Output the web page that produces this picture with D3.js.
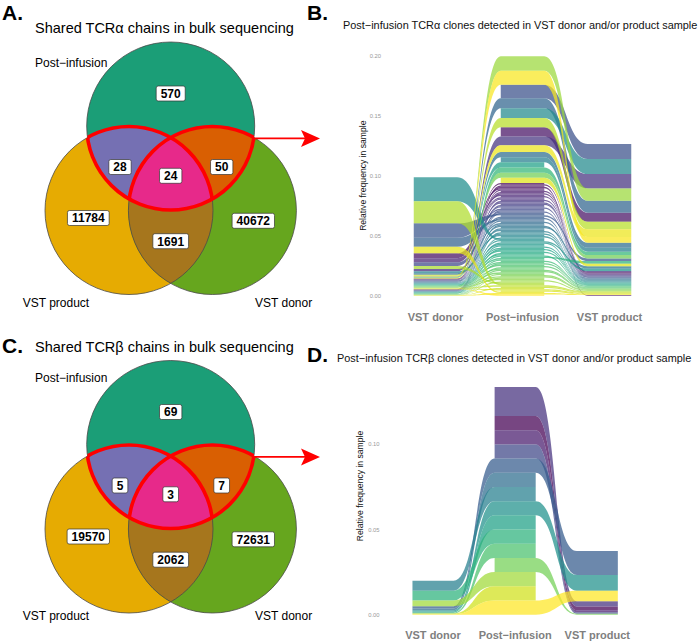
<!DOCTYPE html>
<html><head><meta charset="utf-8">
<script src="https://cdn.jsdelivr.net/npm/d3@7"></script>
<style>body{margin:0;background:#fff}svg{display:block}</style>
</head><body>
<svg id="fig" width="700" height="642"></svg>
<script>
// ================= DATA =================
const vennSetLabels = ["Post−infusion", "VST product", "VST donor"];
const vennRegions = ["post", "post_product", "post_product_donor", "post_donor", "product", "product_donor", "donor"];
const alphaCounts = [570, 28, 24, 50, 11784, 1691, 40672];
const betaCounts  = [69, 5, 3, 7, 19570, 2062, 72631];

const axisLabels = ["VST donor", "Post−infusion", "VST product"];
const alphaYTicks = [0, 0.05, 0.10, 0.15, 0.20];
const betaYTicks  = [0, 0.05, 0.10];

// TCRα clones, listed in clone factor-level order (relative frequency per sample)
const alphaDonor = [
  0.0003,0,0.0002,0.0003,0.0040,0,0.0002,0,0.0003,0.0002,
  0.0035,0,0.0020,0.0003,0,0.0003,0.0002,0.0003,0,0.0002,
  0.0003,0,0.0030,0.0002,0.0003,0,0.0002,0.0120,0,0.0003,
  0.0002,0.0075,0.0003,0.0005,0,0.0013,0.0003,0.0002,0.0003,0,
  0.0002,0.0003,0,0,0.0002,0.0003,0.0015,0,0,0.0002,
  0.0200,0.0003,0,0.0002,0.0003,0.0002,0,0.0004,0.0003,0.0002,
  0.0003,0,0.0002,0.0003,0.0002,0,0.0003,0.0002,0.0002,0,
  0.0003,0.0002,0.0003,0,0.0002,0.0003,0.0002,0,0.0003,0.0003,
  0.0002,0,0.0003,0.0002,0.0003,0,0.0004,0.0002,0.0025,0.0185,
  0.0008,0.0003,0,0.0002,0.0003,0,0,0.0055,0.0004,0.0002,
  0.0006,0.0003
];
const alphaPost = [
  0.00108,0.00108,0.00108,0.00108,0.00108,0.0076,0.00108,0.00108,0.00108,0.00108,
  0.00108,0.00108,0.00108,0.00108,0.00108,0.0074,0.00108,0.00108,0.00108,0.00108,
  0.00108,0.00108,0.00108,0.00108,0.00108,0.0112,0.00108,0.00108,0.00108,0.00108,
  0.00108,0.00108,0.00108,0.0084,0.00108,0.00108,0.0043,0.00108,0.00108,0.00108,
  0.00108,0.00108,0.00108,0.0043,0.00108,0.00108,0.00108,0.00108,0.0080,0.00108,
  0.00108,0.00108,0.00108,0.00108,0.00108,0.00108,0.00108,0.0043,0.00108,0.00108,
  0.00108,0.00108,0.00108,0.00108,0.00108,0.00108,0.00108,0.0043,0.00108,0.00108,
  0.00108,0.00108,0.00108,0.00108,0.00108,0.00108,0.00108,0.00108,0.00108,0.0043,
  0.00108,0.00108,0.00108,0.00108,0.00108,0.00108,0.0120,0.00108,0.00108,0.00108,
  0.0078,0.00108,0.00108,0.00108,0.00108,0.00108,0.0043,0.00108,0.0056,0.00108,
  0.0118,0.00108
];
const alphaProduct = [
  0,0.0006,0,0.0005,0,0.0075,0,0.0006,0,0.0006,
  0,0.0006,0,0,0.0008,0.0120,0,0.0006,0.0006,0,
  0,0.0006,0,0,0.0006,0.0125,0,0,0.0022,0,
  0.0006,0,0,0.0100,0.0006,0,0.0042,0,0.0006,0.0020,
  0,0,0.0006,0.0033,0,0.0006,0,0.0006,0.0125,0,
  0,0,0.0020,0.0006,0,0,0.0006,0,0,0.0006,
  0,0.0006,0,0,0.0006,0.0022,0,0.0028,0,0.0006,
  0,0.0006,0,0.0006,0,0,0.0006,0.0006,0,0.0028,
  0,0.0006,0.0006,0,0,0.0006,0.0102,0,0,0,
  0.0064,0.0006,0.0006,0,0.0006,0.0006,0.0022,0,0.0064,0.0006,
  0.0047,0
];

// TCRβ clones, listed in clone factor-level order
const betaDonor   = [0,0,0,0,0.0014,0.0010,0.0058,0.0008,0.0006,0.0057,0.0005,0,0.0033,0.0004,0.0003];
const betaPost    = [0.0083,0.0083,0.0170,0.0083,0.0083,0.0083,0.0083,0.0083,0.0083,0.0083,0.0083,0.0083,0.0083,0.0083,0.0083];
const betaProduct = [0.0022,0.0012,0.0030,0.0008,0.0140,0,0,0.0092,0,0,0,0.0006,0,0,0.0062];

// ================= DRAWING =================
const FONT = '"Liberation Sans", Arial, Helvetica, sans-serif';
const svg = d3.select("#fig").style("font-family", FONT);
const defs = svg.append("defs");

const regionColor = {
  post: "#1b9e77", product: "#e6ab02", donor: "#66a61e",
  post_product: "#7570b3", post_donor: "#d95f02", product_donor: "#a6761d",
  post_product_donor: "#e7298a"
};

// Venn layout (three equal circles)
const V = { cx: 170.7, r: 84, dx: 41.7, dy: 84.5 };
const labelOffset = {
  post: [0, -32.5], post_product: [-50.7, 41], post_product_donor: [0, 49.8],
  post_donor: [51, 41], product: [-82.4, 92], product_donor: [0, 115.2], donor: [82.6, 94.8]
};

function circleIntersections(a, b, r) {
  const dx = b[0]-a[0], dy = b[1]-a[1], d = Math.hypot(dx, dy);
  const h = Math.sqrt(r*r - d*d/4), mx = (a[0]+b[0])/2, my = (a[1]+b[1])/2;
  return [[mx - h*dy/d, my + h*dx/d], [mx + h*dy/d, my - h*dx/d]];
}

function drawVenn(counts, cy, title, uid, setLabelDy) {
  const g = svg.append("g");
  const T = [V.cx, cy], L = [V.cx - V.dx, cy + V.dy], R = [V.cx + V.dx, cy + V.dy];
  const r = V.r;
  const addClip = (id, centers) => {
    const cp = defs.append("clipPath").attr("id", id);
    centers.forEach(c => cp.append("circle").attr("cx", c[0]).attr("cy", c[1]).attr("r", r));
  };
  addClip(uid + "T", [T]); addClip(uid + "L", [L]); addClip(uid + "LR", [L, R]);
  const circ = (parent, c, fill) => parent.append("circle").attr("cx", c[0]).attr("cy", c[1]).attr("r", r).attr("fill", fill);

  circ(g, T, regionColor.post);
  circ(g, L, regionColor.product);
  circ(g, R, regionColor.donor);
  circ(g, R, regionColor.product_donor).attr("clip-path", `url(#${uid}L)`);
  const gt = g.append("g").attr("clip-path", `url(#${uid}T)`);
  circ(gt, L, regionColor.post_product);
  circ(gt, R, regionColor.post_donor);
  circ(gt, R, regionColor.post_product_donor).attr("clip-path", `url(#${uid}L)`);
  [T, L, R].forEach(c => circ(g, c, "none").attr("stroke", "#4a4a4a").attr("stroke-width", 0.8));

  // red highlight of Post-infusion clones shared with donor and/or product
  circ(g, T, "none").attr("stroke", "#ff0000").attr("stroke-width", 3.6).attr("clip-path", `url(#${uid}LR)`);
  circ(g, L, "none").attr("stroke", "#ff0000").attr("stroke-width", 3.6).attr("clip-path", `url(#${uid}T)`);
  circ(g, R, "none").attr("stroke", "#ff0000").attr("stroke-width", 3.6).attr("clip-path", `url(#${uid}T)`);

  // arrow
  const corner = circleIntersections(T, R, r).sort((a, b) => b[0] - a[0])[0];
  const ay = corner[1] + 1;
  g.append("line").attr("x1", corner[0]).attr("y1", ay).attr("x2", 305).attr("y2", ay)
    .attr("stroke", "#ff0000").attr("stroke-width", 1.8);
  g.append("path").attr("d", `M320,${ay} L301,${ay-8.5} L305,${ay} L301,${ay+8.5} Z`).attr("fill", "#ff0000");

  // region counts
  vennRegions.forEach((key, i) => {
    const px = T[0] + labelOffset[key][0], py = T[1] + labelOffset[key][1];
    const lg = g.append("g").attr("transform", `translate(${px},${py})`);
    const rect = lg.append("rect");
    const t = lg.append("text").attr("text-anchor", "middle").attr("dy", "0.36em")
      .attr("font-size", 12).attr("font-weight", "bold").attr("fill", "#000").text(counts[i]);
    const tw = t.node().getComputedTextLength();
    rect.attr("x", -tw/2 - 4.5).attr("y", -7.5).attr("width", tw + 9).attr("height", 15)
      .attr("rx", 2).attr("fill", "#fff").attr("stroke", "#333").attr("stroke-width", 0.7);
  });

  // set labels
  g.append("text").attr("x", 35).attr("y", cy + setLabelDy[0] + 4.3).attr("font-size", 12).text(vennSetLabels[0]);
  g.append("text").attr("x", 22.7).attr("y", cy + setLabelDy[1] + 4.3).attr("font-size", 12).text(vennSetLabels[1]);
  g.append("text").attr("x", 255).attr("y", cy + setLabelDy[1] + 4.3).attr("font-size", 12).text(vennSetLabels[2]);
  // title
  g.append("text").attr("x", 35).attr("y", cy - 98 + 5).attr("font-size", 14.5).text(title);
}

function drawAlluvial(cfg) {
  const g = svg.append("g");
  const series = [cfg.donor, cfg.post, cfg.product];
  const n = cfg.post.length;
  const x = d3.scalePoint().domain(axisLabels).range(cfg.xRange);
  const w = x.step() * 0.5, gap = x.step() - w, k = 0.5;
  const y = d3.scaleLinear().domain([0, d3.max(cfg.ticks)]).range(cfg.yRange);
  const color = d3.scaleSequential(d3.interpolateViridis).domain([0, n - 1]);

  // stack lodes on each axis: larger values on top
  const lodes = series.map(vals => {
    const idx = d3.range(n).filter(i => vals[i] > 0)
      .sort((a, b) => d3.descending(vals[a], vals[b]) || a - b);
    const out = new Array(n).fill(null);
    let top = d3.sum(idx, i => vals[i]);
    idx.forEach(i => { out[i] = [top, top - vals[i]]; top -= vals[i]; });
    return out;
  });

  const alluvium = i => {
    const segs = [];
    axisLabels.forEach((a, j) => {
      const l = lodes[j][i];
      if (l) segs.push({ xl: x(a) - w/2, xr: x(a) + w/2, t: y(l[0]), b: y(l[1]) });
    });
    const p = d3.path();
    p.moveTo(segs[0].xl, segs[0].t); p.lineTo(segs[0].xr, segs[0].t);
    for (let s = 1; s < segs.length; s++) {
      const a = segs[s-1], c = segs[s];
      p.bezierCurveTo(a.xr + k*gap, a.t, c.xl - k*gap, c.t, c.xl, c.t);
      p.lineTo(c.xr, c.t);
    }
    const last = segs[segs.length - 1];
    p.lineTo(last.xr, last.b); p.lineTo(last.xl, last.b);
    for (let s = segs.length - 1; s > 0; s--) {
      const c = segs[s], a = segs[s-1];
      p.bezierCurveTo(c.xl - k*gap, c.b, a.xr + k*gap, a.b, a.xr, a.b);
      p.lineTo(a.xl, a.b);
    }
    p.closePath();
    return p.toString();
  };

  g.append("g").selectAll("path").data(d3.range(n)).join("path")
    .attr("d", alluvium).attr("fill", i => color(i)).attr("fill-opacity", 0.73);

  // y axis (labels only)
  const ax = g.append("g").attr("transform", `translate(${cfg.tickX},0)`)
    .call(d3.axisLeft(y).tickValues(cfg.ticks).tickFormat(d3.format(".2f")).tickSize(0).tickPadding(0));
  ax.select(".domain").remove();
  ax.selectAll("text").attr("font-size", 5.8).attr("fill", "#999").attr("font-family", FONT);

  g.append("text").attr("transform", `translate(${cfg.yTitle[0]},${cfg.yTitle[1]}) rotate(-90)`)
    .attr("text-anchor", "middle").attr("dy", "0.35em").attr("font-size", 8.6).attr("fill", "#111")
    .text("Relative frequency in sample");

  g.selectAll(".xl").data(axisLabels).join("text")
    .attr("x", d => x(d)).attr("y", cfg.xLabelY).attr("text-anchor", "middle")
    .attr("font-size", 11).attr("font-weight", "bold").attr("fill", "#7f7f7f").text(d => d);

  g.append("text").attr("x", cfg.titleX).attr("y", cfg.titleY).attr("font-size", 10.9).attr("fill", "#111").text(cfg.title);
}

// panels A and C: Venn diagrams
drawVenn(alphaCounts, 126, "Shared TCRα chains in bulk sequencing", "vA", [-63, 177]);
drawVenn(betaCounts, 444.5, "Shared TCRβ chains in bulk sequencing", "vC", [-67, 171.5]);

// panels B and D: alluvial plots
drawAlluvial({
  donor: alphaDonor, post: alphaPost, product: alphaProduct, ticks: alphaYTicks,
  xRange: [435.5, 609.5], yRange: [295.7, 55.7], tickX: 381, yTitle: [363.3, 175.7],
  xLabelY: 321, titleX: 343, titleY: 28.5,
  title: "Post−infusion TCRα clones detected in VST donor and/or product sample"
});
drawAlluvial({
  donor: betaDonor, post: betaPost, product: betaProduct, ticks: betaYTicks,
  xRange: [433, 597.3], yRange: [614.7, 443.7], tickX: 379.5, yTitle: [360, 486],
  xLabelY: 638.5, titleX: 337, titleY: 361.5,
  title: "Post−infusion TCRβ clones detected in VST donor and/or product sample"
});

// panel letters
[["A.", 2, 20], ["B.", 307, 20], ["C.", 2, 353], ["D.", 307, 362]].forEach(([t, px, py]) =>
  svg.append("text").attr("x", px).attr("y", py).attr("font-size", 21).attr("font-weight", "bold").text(t));
</script>
</body></html>
